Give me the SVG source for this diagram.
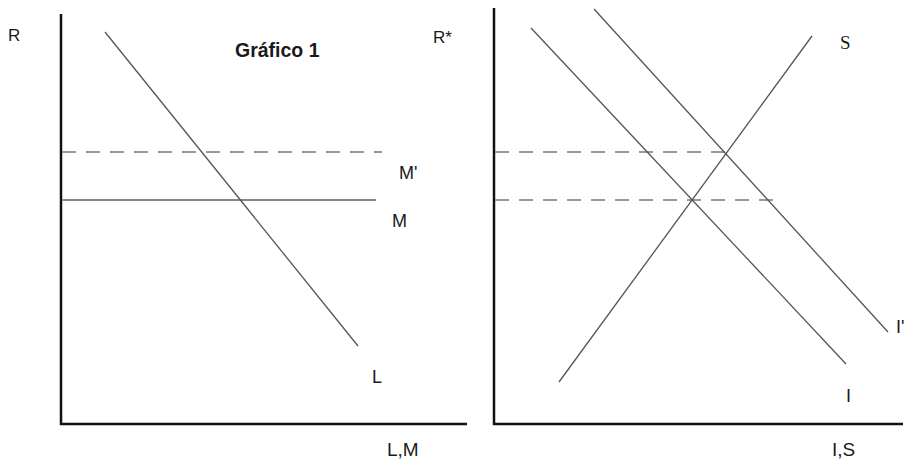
<svg xmlns="http://www.w3.org/2000/svg" width="908" height="463" viewBox="0 0 908 463">
<style>
.ax{stroke:#111;stroke-width:2.5;fill:none}
.cv{stroke:#555;stroke-width:1.3;fill:none}
.ds{stroke:#999;stroke-width:1.8;stroke-dasharray:14 10;fill:none}
.sl{stroke:#888;stroke-width:1.8;fill:none}
.t{font-family:"Liberation Sans",Arial,sans-serif;fill:#1a1a1a}
.s{font-family:"Liberation Serif","Times New Roman",serif;fill:#1a1a1a}
</style>
<rect width="908" height="463" fill="#fff"/>
<g id="left-chart">
<path class="ax" d="M61 14V424H467"/>
<line class="ds" x1="62" y1="152" x2="382" y2="152"/>
<line class="sl" x1="62" y1="200" x2="376" y2="200"/>
<line class="cv" x1="105" y1="32" x2="358" y2="346"/>
<text class="t" x="8" y="41" font-size="17">R</text>
<text class="t" x="235" y="57" font-size="19.5" font-weight="bold">Gráfico 1</text>
<text class="t" x="399" y="179" font-size="18">M'</text>
<text class="t" x="392" y="227" font-size="18">M</text>
<text class="t" x="372" y="383" font-size="18">L</text>
<text class="t" x="387" y="456" font-size="19">L,M</text>
</g>
<g id="right-chart">
<path class="ax" d="M494 8V424H903"/>
<line class="ds" x1="495" y1="152" x2="727" y2="152"/>
<line class="ds" x1="495" y1="200" x2="775" y2="200"/>
<line class="cv" x1="531" y1="28" x2="846" y2="364"/>
<line class="cv" x1="594" y1="9" x2="888" y2="332"/>
<line class="cv" x1="559" y1="382" x2="812" y2="36"/>
<text class="t" x="433" y="43" font-size="17">R*</text>
<text class="s" x="840" y="49" font-size="19">S</text>
<text class="t" x="896" y="333" font-size="18">I'</text>
<text class="t" x="846" y="402" font-size="18">I</text>
<text class="t" x="832" y="456" font-size="19">I,S</text>
</g>
</svg>
